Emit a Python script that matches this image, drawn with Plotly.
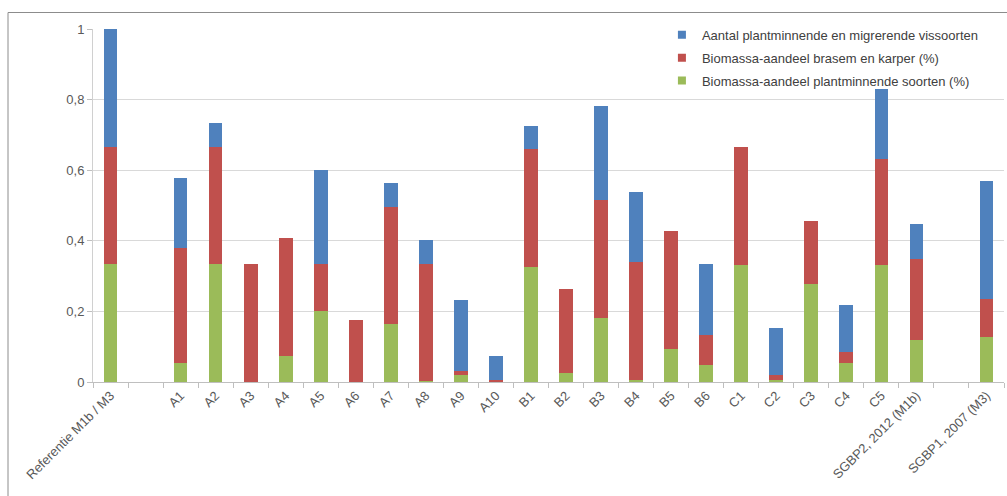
import plotly.graph_objects as go

# Water bodies / scenarios (blank slots separate the reference and the SGBP groups)
categories = [
    "Referentie M1b / M3", " ",
    "A1", "A2", "A3", "A4", "A5", "A6", "A7", "A8", "A9", "A10",
    "B1", "B2", "B3", "B4", "B5", "B6",
    "C1", "C2", "C3", "C4", "C5",
    "SGBP2, 2012 (M1b)", "  ", "SGBP1, 2007 (M3)",
]

# Biomassa-aandeel plantminnende soorten (bottom segment)
plantminnend = [
    0.333, None,
    0.053, 0.333, 0.0, 0.075, 0.200, 0.0, 0.163, 0.003, 0.019, 0.002,
    0.327, 0.025, 0.181, 0.006, 0.093, 0.049,
    0.331, 0.007, 0.277, 0.053, 0.331,
    0.119, None, 0.128,
]

# Biomassa-aandeel brasem en karper (middle segment)
brasem_karper = [
    0.333, None,
    0.327, 0.333, 0.333, 0.334, 0.133, 0.176, 0.332, 0.332, 0.012, 0.004,
    0.332, 0.238, 0.335, 0.334, 0.334, 0.083,
    0.335, 0.012, 0.179, 0.031, 0.300,
    0.230, None, 0.106,
]

# Aantal plantminnende en migrerende vissoorten (top segment)
vissoorten = [
    0.334, None,
    0.199, 0.067, 0.0, 0.0, 0.267, 0.0, 0.068, 0.068, 0.202, 0.067,
    0.066, 0.0, 0.267, 0.199, 0.0, 0.201,
    0.0, 0.133, 0.0, 0.134, 0.199,
    0.099, None, 0.336,
]

y_ticks = [0, 0.2, 0.4, 0.6, 0.8, 1]

BLUE = "#4F81BD"
RED = "#C0504D"
GREEN = "#9BBB59"
TEXT = "#595959"
GRID = "#D9D9D9"
FONT = "Liberation Sans, Arial, sans-serif"

series = [
    ("Biomassa-aandeel plantminnende soorten (%)", plantminnend, GREEN),
    ("Biomassa-aandeel brasem en karper (%)", brasem_karper, RED),
    ("Aantal plantminnende en migrerende vissoorten", vissoorten, BLUE),
]

fig = go.Figure()
for name, values, color in series:
    fig.add_trace(go.Bar(
        x=categories, y=values, name=name,
        marker=dict(color=color, line=dict(width=0)),
        showlegend=False,
    ))

# Legend entries with small square keys, top segment listed first;
# one group each so the rows get a little extra spacing
for i, (name, values, color) in enumerate(reversed(series)):
    fig.add_trace(go.Scatter(
        x=[None], y=[None], mode="markers", name=name,
        marker=dict(symbol="square", size=8, color=color),
        legendgroup=f"g{i}", showlegend=True,
    ))

fig.update_layout(
    width=1007, height=496,
    margin=dict(l=93, r=3, t=29, b=114, autoexpand=False),
    paper_bgcolor="white", plot_bgcolor="white",
    barmode="stack", bargap=0.61,
    separators=",.",
    font=dict(family=FONT, size=13, color=TEXT),
    legend=dict(
        x=0.6245, y=1.026, xanchor="left", yanchor="top",
        traceorder="grouped", tracegroupgap=3,
        bgcolor="rgba(255,255,255,0)", itemwidth=30,
        font=dict(family=FONT, size=13, color="#404040"),
    ),
    xaxis=dict(
        type="category", categoryorder="array", categoryarray=categories,
        tickson="boundaries", ticks="outside", ticklen=5, tickcolor="#BFBFBF",
        showline=True, linecolor="#BFBFBF", linewidth=1,
        tickangle=-45, showgrid=False, automargin=False,
        tickfont=dict(family=FONT, size=13, color=TEXT),
    ),
    yaxis=dict(
        range=[0, 1], tickvals=y_ticks,
        ticks="outside", ticklen=5, tickcolor="#BFBFBF",
        showline=True, linecolor="#D0D0D0", linewidth=1,
        showgrid=True, gridcolor=GRID, gridwidth=1,
        zeroline=False, automargin=False,
        tickfont=dict(family=FONT, size=13, color=TEXT),
    ),
    shapes=[dict(
        type="rect", xref="paper", yref="paper",
        x0=-0.0933, x1=1.01, y0=-0.36, y1=1.0467,
        line=dict(color="#8C8C8C", width=1), layer="below",
    )],
)

fig.write_html("out.html")
